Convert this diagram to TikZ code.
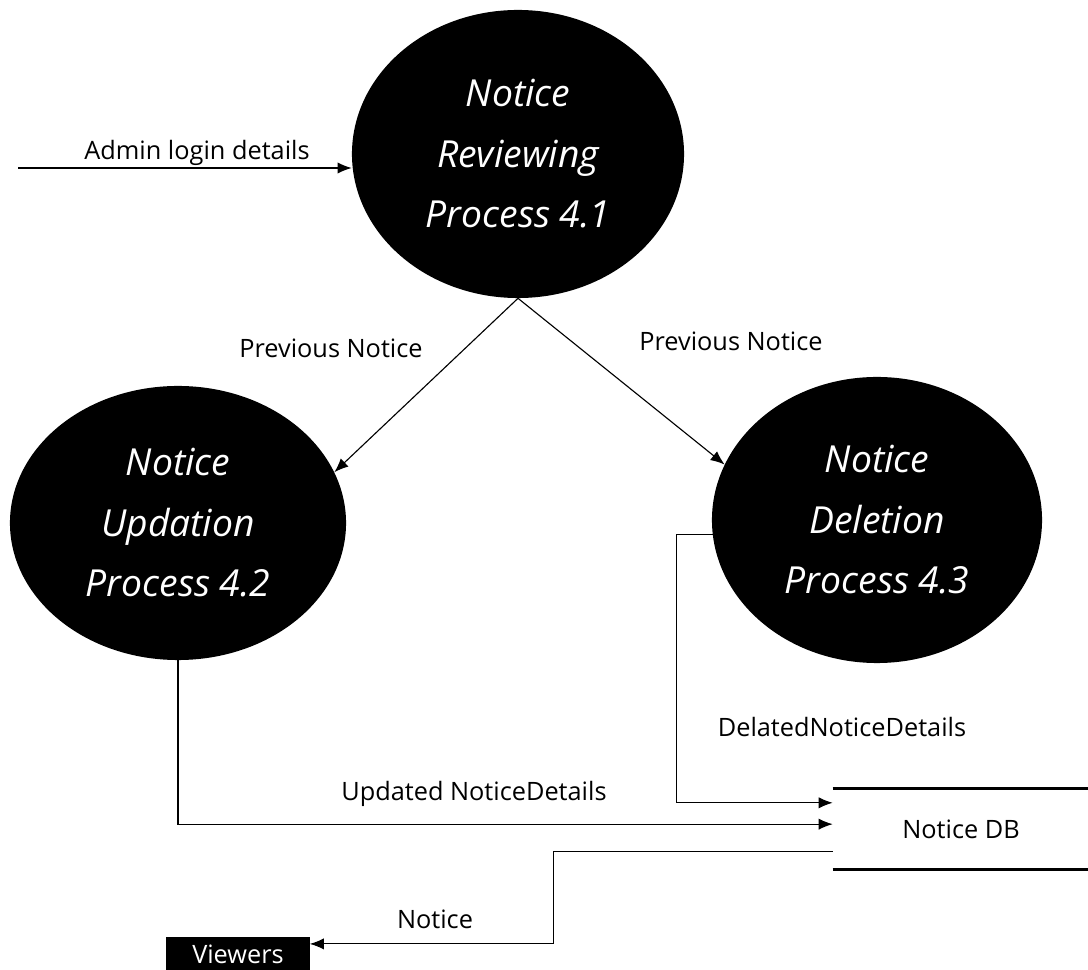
\documentclass[tikz,border=0pt]{standalone}
\usepackage{fontspec}
\setmainfont{Open Sans}
\usetikzlibrary{arrows.meta,shapes,calc,positioning}
\tikzset{
  process/.style={ellipse,fill=black,text=white,inner sep=0pt,align=center,
    font=\itshape\fontsize{26.5}{43}\selectfont},
  flow/.style={-{Latex[length=10pt,width=8pt]},line width=.8pt},
  lbl/.style={font=\fontsize{18}{21}\selectfont},
}
\begin{document}
\begin{tikzpicture}[x=0.025cm,y=-0.025cm]
\useasboundingbox (0,0) rectangle (1088,970);
% the three processes
\node[process,minimum width=8.3cm,minimum height=7.2cm] (rev) at (518,154) {Notice\\Reviewing\\Process 4.1};
\node[process,minimum width=8.4cm,minimum height=6.85cm] (upd) at (178,523) {Notice\\Updation\\Process 4.2};
\node[process,minimum width=8.25cm,minimum height=7.15cm] (del) at (877,520) {Notice\\Deletion\\Process 4.3};
% data store and sink
\node[lbl,minimum width=6.4cm,minimum height=2cm,inner sep=0pt] (db) at (961,829) {Notice DB};
\draw[line width=2.2pt](db.north west)--(db.north east)(db.south west)--(db.south east);
\node[lbl,fill=black,text=white,minimum width=3.575cm,minimum height=.85cm,inner sep=0pt] (view) at (238,954) {Viewers};
% flows
\coordinate (admin) at (18,168);
\draw[flow](admin)--(admin-|rev.west);
\coordinate (delin) at ($(db.north west)!.175!(db.south west)$);
\coordinate (updin) at ($(db.north west)!.44!(db.south west)$);
\coordinate (dbout) at ($(db.north west)!.775!(db.south west)$);
\draw[flow](rev.south)--(upd.18);
\draw[flow](rev.south)--(del.160);
\draw[flow](del.185)--++(-36,0)|-(delin);
\draw[flow](upd.south)|-(updin);
\draw[flow](dbout)--++(-279,0)|-(view.8);
%labels
\node[lbl] (adminlbl) at (197,153) {Admin login details};
\node[lbl] (prevl) at (331,348) {Previous Notice};
\node[lbl] (prevr) at (731,341) {Previous Notice};
\node[lbl] (dellbl) at (842,727) {DelatedNoticeDetails};
\node[lbl] (updlbl) at (474,794) {Updated NoticeDetails};
\node[lbl] (outlbl) at (435,919) {Notice};
\end{tikzpicture}
\end{document}
